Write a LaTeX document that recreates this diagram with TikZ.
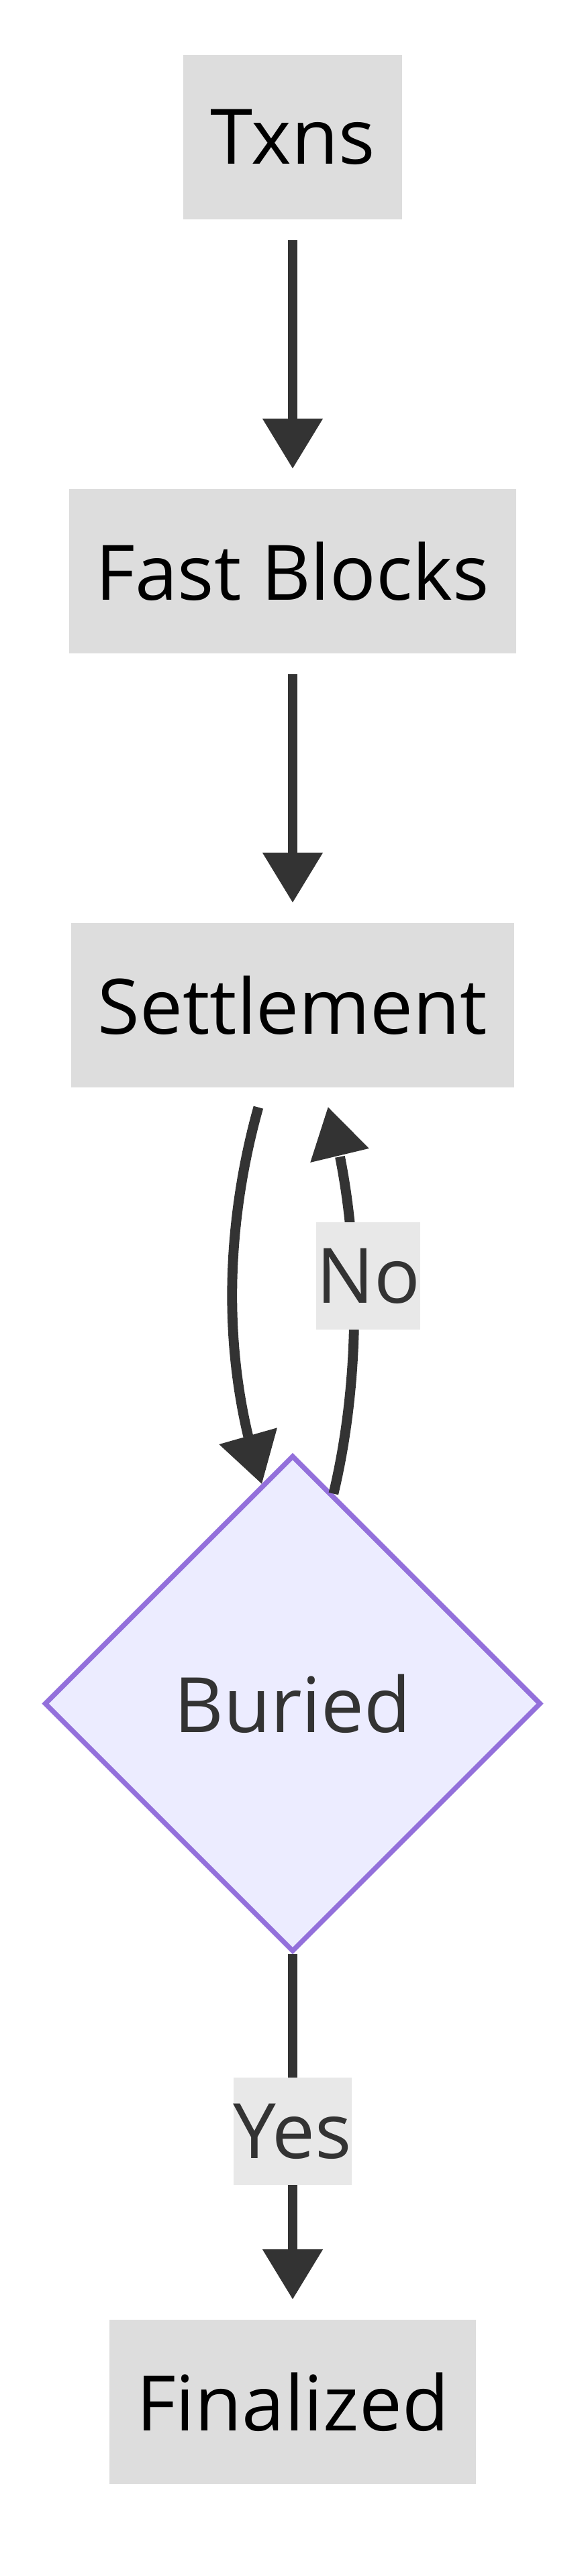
\documentclass[tikz,border=0pt]{standalone}
\usepackage{fontspec}
\setmainfont{Open Sans}
\usetikzlibrary{arrows.meta, bending, shapes.geometric}
\definecolor{boxgray}{HTML}{DDDDDD}
\definecolor{labelgray}{HTML}{E8E8E8}
\definecolor{linegray}{HTML}{333333}
\definecolor{decfill}{HTML}{ECECFF}
\definecolor{decline}{HTML}{9370DB}

\begin{document}
\begin{tikzpicture}[every node/.style={font=\fontsize{28.5pt}{34pt}\selectfont},
    box/.style={rectangle, fill=boxgray, minimum height=61.25pt, inner xsep=0pt, text=black},
    decision/.style={diamond, aspect=1, draw=decline, line width=1.85pt, fill=decfill, minimum width=185pt, minimum height=185pt, inner sep=0pt, text=linegray},
    lbl/.style={rectangle, fill=labelgray, minimum height=40pt, inner xsep=0pt, text=linegray},
    edge/.style={draw=linegray, line width=3.7pt, -{Triangle[length=18.5pt, width=22.5pt, line width=0pt, flex]}, shorten <=7.5pt, shorten >=7.5pt},
    node distance=161.75pt]
        \useasboundingbox[fill=white] (-109pt,51.125pt) rectangle (109pt,-908.875pt);

        \node[box, minimum width=81.5pt] (txns) {Txns};
        \node[box, below of=txns, minimum width=166.5pt] (fast) {Fast Blocks};
        \node[box, below of=fast, minimum width=165pt] (settle) {Settlement};
        \node[decision, below of=settle, node distance=260.25pt] (buried) {Buried};
        \node[box, below of=buried, node distance=260.25pt, minimum width=136.5pt] (final) {Finalized};

        \draw[edge] (txns) -- (fast);
        \draw[edge] (fast) -- (settle);
        \draw[edge, shorten >=0pt] ([xshift=-10.75pt]settle.south) .. controls +(-14pt,-50pt) and +(-16pt,48pt) .. (buried.98);
        \draw[edge, shorten <=0pt] (buried.79) .. controls +(11pt,46pt) and +(15pt,-46pt) .. node[lbl, pos=0.535, xshift=5.5pt] (no) {No} ([xshift=11pt]settle.south);
        \draw[edge, shorten <=0pt] (buried.south) -- node[lbl, pos=0.485] (yes) {Yes} (final.north);
      \end{tikzpicture}
\end{document}
